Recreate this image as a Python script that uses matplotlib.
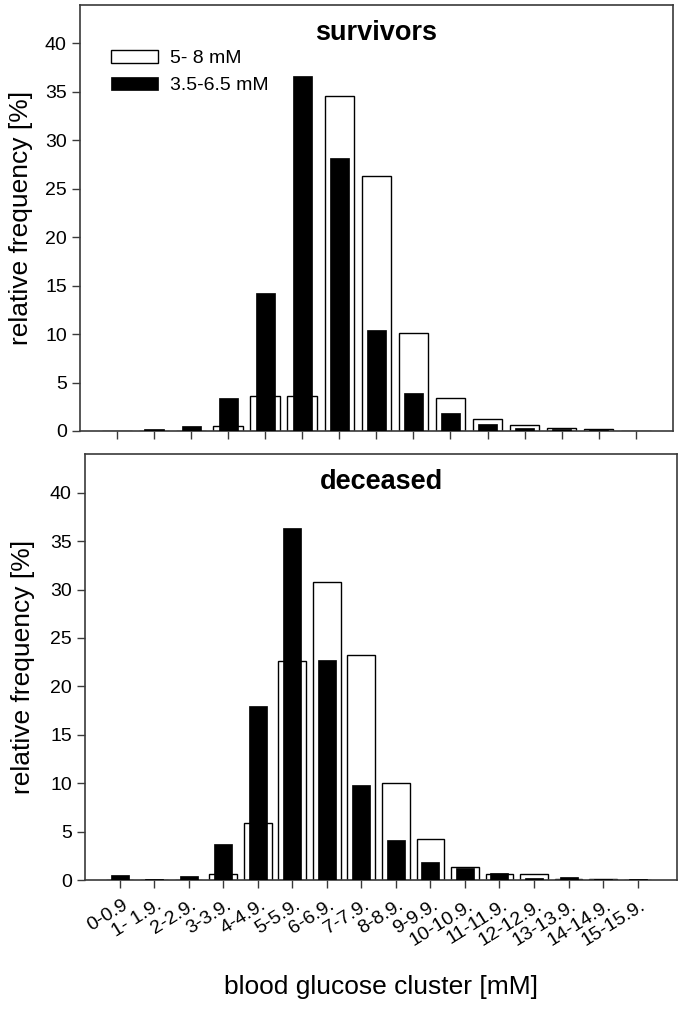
import numpy as np
import matplotlib
matplotlib.use("Agg")
import matplotlib.pyplot as plt
from matplotlib.transforms import ScaledTranslation

plt.rcParams['font.family'] = ['Liberation Sans', 'DejaVu Sans']

clusters = ["0-0.9", "1- 1.9.", "2-2.9.", "3-3.9.", "4-4.9.", "5-5.9.", "6-6.9.", "7-7.9.",
            "8-8.9.", "9-9.9.", "10-10.9.", "11-11.9.", "12-12.9.", "13-13.9.", "14-14.9.", "15-15.9."]

# survivors (top panel shows clusters 0..14)
surv_5_8 = [0, 0, 0, 0.5, 3.6, 3.6, 34.6, 26.3, 10.1, 3.4, 1.24, 0.65, 0.28, 0.17, 0]
surv_35_65 = [0, 0.17, 0.48, 3.45, 14.2, 36.6, 28.2, 10.4, 3.9, 1.9, 0.69, 0.28, 0.2, 0.1, 0]

# deceased (bottom panel shows clusters 0..15)
dec_5_8 = [0, 0, 0, 0.58, 5.85, 22.6, 30.8, 23.2, 10.0, 4.2, 1.34, 0.58, 0.58, 0.1, 0.14, 0]
dec_35_65 = [0.52, 0.14, 0.45, 3.7, 18.0, 36.4, 22.7, 9.8, 4.1, 1.9, 1.27, 0.72, 0.24, 0.34, 0.1, 0.1]

labels = ["5- 8 mM", "3.5-6.5 mM"]

spine_col = "#3a3a3a"

fig = plt.figure(figsize=(6.85, 10.1), dpi=100)
ax1 = fig.add_axes([0.1168, 0.5733, 0.8653, 0.422])
ax2 = fig.add_axes([0.1241, 0.1287, 0.8647, 0.4218])


def draw(ax, white, black, title):
    xw = np.arange(len(white))
    xb = np.arange(len(black))
    bw = ax.bar(xw, white, width=0.8, facecolor="white", edgecolor="black", linewidth=1.0, zorder=2)
    bb = ax.bar(xb, black, width=0.52, color="black", edgecolor="black", linewidth=0.5, zorder=3)
    ax.set_ylim(0, 44)
    ax.set_yticks(range(0, 45, 5))
    ax.set_ylabel("relative frequency [%]", fontsize=19)
    ax.text(0.5, 0.965, title, transform=ax.transAxes, ha="center", va="top",
            fontsize=19.5, fontweight="bold")
    for s in ax.spines.values():
        s.set_color(spine_col)
        s.set_linewidth(1.2)
    ax.tick_params(direction="out", length=6, width=1, colors=spine_col, labelcolor="black",
                   labelsize=14, top=False, right=False)
    return bw, bb


bw, bb = draw(ax1, surv_5_8, surv_35_65, "survivors")
ax1.set_xlim(-1, 15)
ax1.set_xticks(range(15))
ax1.set_xticklabels([])
ax1.yaxis.set_label_coords(-0.079, 0.5)
ax1.legend([bw, bb], labels, loc="upper left", bbox_to_anchor=(0.053, 0.895), frameon=False,
           fontsize=14, handlelength=2.4, handleheight=0.7, handletextpad=0.6,
           labelspacing=0.5, borderpad=0, borderaxespad=0)

draw(ax2, dec_5_8, dec_35_65, "deceased")
ax2.set_xlim(-1, 16.15)
ax2.set_xticks(range(len(clusters)))
ax2.set_xticklabels(clusters, rotation=32, ha="right", rotation_mode="anchor", fontsize=14)
ax2.tick_params(axis="x", pad=6)
shift = ScaledTranslation(0.02, 0, fig.dpi_scale_trans)
for lab in ax2.get_xticklabels():
    lab.set_transform(lab.get_transform() + shift)
ax2.yaxis.set_label_coords(-0.084, 0.5)
ax2.set_xlabel("blood glucose cluster [mM]", fontsize=19)
ax2.xaxis.set_label_coords(0.5, -0.222)

fig.savefig("out.png", dpi=100)
